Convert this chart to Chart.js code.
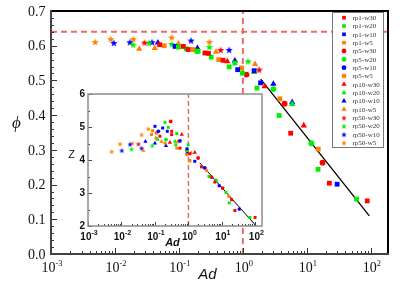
<!DOCTYPE html>
<html>
<head>
<meta charset="utf-8">
<script src="https://cdn.jsdelivr.net/npm/chart.js@4.4.0/dist/chart.umd.min.js"></script>
<style>
html, body { margin: 0; padding: 0; background: #fff; }
#wrap { position: relative; width: 409px; height: 285px; }
#wrap canvas { position: absolute; left: 0; top: 0; }
</style>
</head>
<body>
<div id="wrap">
  <canvas id="main" width="409" height="285"></canvas>
  <canvas id="inset" width="409" height="285"></canvas>
</div>
<script>
// series names (legend order)
const seriesNames = ['rp1-w30', 'rp1-w20', 'rp1-w10', 'rp1-w5',
                     'rp5-w30', 'rp5-w20', 'rp5-w10', 'rp5-w5',
                     'rp10-w30', 'rp10-w20', 'rp10-w10', 'rp10-w5',
                     'rp50-w30', 'rp50-w20', 'rp50-w10', 'rp50-w5'];

// main plot: [Ad, phi]
const phiRp1W30 = [[0.050, 0.603], [0.117, 0.598], [0.14, 0.589], [0.255, 0.579], [0.29, 0.578], [0.49, 0.558], [5.6, 0.348], [22.5, 0.204], [88, 0.153]];
const phiRp1W20 = [[0.098, 0.596], [0.13, 0.591], [0.19, 0.584], [0.20, 0.584], [0.32, 0.567], [0.61, 0.539], [0.75, 0.550], [0.98, 0.521], [1.66, 0.478], [3.7, 0.399], [15, 0.244], [60, 0.158]];
const phiRp1W10 = [[0.087, 0.598], [0.83, 0.531], [1.5, 0.528], [1.89, 0.493], [29.8, 0.201]];
const phiRp1W5 = [[0.059, 0.600], [0.167, 0.589], [0.42, 0.560], [0.95, 0.536], [3.8, 0.447], [15.1, 0.302]];
const phiRp5W30 = [[1.14, 0.517], [4.5, 0.433], [17.6, 0.263]];
const phiRp5W20 = [[3.0, 0.475], [11.8, 0.319]];
const phiRp5W10 = [];
const phiRp5W5 = [];
const phiRp10W30 = [[0.57, 0.555], [2.19, 0.483], [8.97, 0.370]];
const phiRp10W20 = [[1.5, 0.524], [5.9, 0.432]];
const phiRp10W10 = [[0.047, 0.609], [0.195, 0.593], [0.75, 0.557], [3.0, 0.490], [5.9, 0.437]];
const phiRp10W5 = [[0.024, 0.591], [0.042, 0.593], [0.098, 0.606], [0.38, 0.582], [1.55, 0.547]];
const phiRp50W30 = [[0.029, 0.609], [0.45, 0.588], [1.8, 0.531]];
const phiRp50W20 = [[0.0193, 0.603], [0.034, 0.608], [0.077, 0.605], [0.30, 0.596], [1.21, 0.555]];
const phiRp50W10 = [[0.0096, 0.608], [0.0171, 0.610], [0.038, 0.610], [0.155, 0.615], [0.61, 0.588]];
const phiRp50W5 = [[0.0049, 0.611], [0.0086, 0.619], [0.0193, 0.619], [0.077, 0.624], [0.30, 0.611]];

// inset: [Ad, Z]
const zRp1W30 = [[0.141, 4.72], [0.316, 4.87], [0.316, 4.77], [0.56, 4.36], [1.1, 4.19], [2.45, 3.79], [6.2, 3.33], [19.5, 2.80], [24.5, 2.47], [98, 2.26]];
const zRp1W20 = [[0.20, 5.14], [0.25, 4.99], [0.45, 4.80], [0.42, 4.46], [0.98, 4.46], [4.1, 3.50], [13.2, 3.02], [16.6, 2.70], [69, 2.26]];
const zRp1W10 = [[0.10, 5.02], [0.17, 4.97], [0.234, 4.87], [0.91, 4.34], [1.55, 3.96], [8.3, 3.22], [33, 2.51]];
const zRp1W5 = [[0.085, 4.89], [0.079, 4.77], [0.20, 4.51], [0.45, 4.36], [0.89, 4.16], [3.5, 3.68], [16, 2.90]];
const zRp5W30 = [[0.295, 5.17], [1.95, 4.06], [4.9, 3.48], [10.5, 3.15]];
const zRp5W20 = [[0.214, 4.62], [0.89, 4.29], [6.6, 3.38]];
const zRp5W10 = [[0.126, 4.87], [0.56, 4.58], [3.1, 3.76]];
const zRp5W5 = [[0.112, 4.82], [0.50, 4.56], [1.1, 3.98]];
const zRp10W30 = [[0.63, 4.77], [0.28, 4.53], [1.55, 4.23]];
const zRp10W20 = [[0.40, 4.56], [0.12, 4.62]];
const zRp10W10 = [[0.052, 4.56], [0.10, 4.51], [0.214, 4.43], [0.91, 4.21]];
const zRp10W5 = [[0.045, 4.29], [0.158, 4.56], [1.2, 4.21], [0.107, 4.67]];
const zRp50W30 = [[0.032, 4.49]];
const zRp50W20 = [[0.020, 4.33], [0.083, 4.44]];
const zRp50W10 = [[0.0102, 4.29], [0.018, 4.48], [0.040, 4.36]];
const zRp50W5 = [[0.0051, 4.26], [0.0091, 4.49], [0.021, 4.51], [0.040, 4.77], [0.063, 4.95]];

const phiSeries = [phiRp1W30, phiRp1W20, phiRp1W10, phiRp1W5, phiRp5W30, phiRp5W20, phiRp5W10, phiRp5W5,
                   phiRp10W30, phiRp10W20, phiRp10W10, phiRp10W5, phiRp50W30, phiRp50W20, phiRp50W10, phiRp50W5];
const zSeries = [zRp1W30, zRp1W20, zRp1W10, zRp1W5, zRp5W30, zRp5W20, zRp5W10, zRp5W5,
                 zRp10W30, zRp10W20, zRp10W10, zRp10W5, zRp50W30, zRp50W20, zRp50W10, zRp50W5];

// reference lines and fits
const refPhi = 0.64;
const refAd = 1;
const phiFitAd = [1.9, 95];
const phiFitVal = [0.504, 0.11];
const zFitAd = [2.2, 102];
const zFitVal = [3.91, 2.02];

// ticks
const decades = [-3, -2, -1, 0, 1, 2];
const phiTicks = [0, 0.1, 0.2, 0.3, 0.4, 0.5, 0.6, 0.7];
const phiTickLabels = ['0.0', '0.1', '0.2', '0.3', '0.4', '0.5', '0.6', '0.7'];
const zTicks = [2, 3, 4, 5, 6];

const palette = ['#ff0000', '#00ee00', '#0000ff', '#ff8000'];
const shapes = ['rect', 'circle', 'triangle', 'star'];
const SERIF = '"Liberation Serif", "Times New Roman", serif';
const SANS = '"Liberation Sans", Arial, sans-serif';

function makeStar(color, r) {
    const s = Math.ceil(r * 2) + 2;
    const c = document.createElement('canvas');
    c.width = s; c.height = s;
    const g = c.getContext('2d');
    g.fillStyle = color;
    g.beginPath();
    for (let i = 0; i < 10; i++) {
        const rr = i % 2 ? r * 0.42 : r;
        const a = -Math.PI / 2 + i * Math.PI / 5;
        const px = s / 2 + rr * Math.cos(a), py = s / 2 + 0.4 + rr * Math.sin(a);
        i ? g.lineTo(px, py) : g.moveTo(px, py);
    }
    g.closePath();
    g.fill();
    return c;
}

function styleFor(i, size) {
    const shape = shapes[Math.floor(i / 4)];
    const color = palette[i % 4];
    const radii = {
        big:   { rect: 3.4, circle: 2.9, triangle: 3.7, star: 3.8 },
        small: { rect: 2.1, circle: 1.9, triangle: 2.5, star: 2.8 },
        leg:   { rect: 2.6, circle: 2.4, triangle: 3.0, star: 3.0 }
    }[size];
    if (shape === 'star') return { color, pointStyle: makeStar(color, radii.star), radius: 3 };
    return { color, pointStyle: shape, radius: radii[shape] };
}

function scatterSets(series, size) {
    return series.map((pts, i) => {
        const st = styleFor(i, size);
        return {
            label: seriesNames[i],
            data: pts.map(p => ({ x: p[0], y: p[1] })),
            pointStyle: st.pointStyle,
            pointRadius: st.radius,
            pointHoverRadius: st.radius,
            pointBackgroundColor: st.color,
            pointBorderColor: st.color,
            pointBorderWidth: 0,
            showLine: false
        };
    });
}

function lineSet(xs, ys, color, width, dash) {
    return {
        data: xs.map((x, i) => ({ x, y: ys[i] })),
        showLine: true, pointRadius: 0, borderColor: color, borderWidth: width,
        borderDash: dash || [], fill: false
    };
}

function sciLabel(ctx, px, baseY, exp, bigFont, smallFont, rise) {
    const sup = String(exp);
    ctx.font = bigFont; const w1 = ctx.measureText('10').width;
    ctx.font = smallFont; const w2 = ctx.measureText(sup).width;
    const x0 = px - (w1 + w2) / 2;
    ctx.textAlign = 'left'; ctx.textBaseline = 'alphabetic';
    ctx.font = bigFont; ctx.fillText('10', x0, baseY);
    ctx.font = smallFont; ctx.fillText(sup, x0 + w1, baseY - rise);
}

function logTicks(scale, a, len, minorLen, ctx) {
    ctx.beginPath();
    decades.forEach(e => {
        for (let m = 1; m <= 9; m++) {
            const v = m * Math.pow(10, e);
            if (v < scale.min || v > scale.max) continue;
            const px = Math.round(scale.getPixelForValue(v)) + 0.5;
            ctx.moveTo(px, a.bottom);
            ctx.lineTo(px, a.bottom - (m === 1 ? len : minorLen));
        }
    });
    ctx.stroke();
}

const mainDecor = {
    id: 'mainDecor',
    afterDatasetsDraw(chart) {
        const { ctx, chartArea: a, scales: { x, y } } = chart;
        ctx.save();
        // ticks (inward)
        ctx.strokeStyle = '#333'; ctx.lineWidth = 1;
        logTicks(x, a, 6, 3, ctx);
        ctx.beginPath();
        for (let v = 0; v <= 0.7001; v += 0.02) {
            const py = Math.round(y.getPixelForValue(v)) + 0.5;
            const major = Math.abs(v * 10 - Math.round(v * 10)) < 1e-6;
            ctx.moveTo(a.left, py); ctx.lineTo(a.left + (major ? 6 : 3), py);
        }
        ctx.stroke();
        // frame
        ctx.lineWidth = 2;
        ctx.strokeStyle = '#000';
        ctx.beginPath();
        ctx.moveTo(a.left, a.top); ctx.lineTo(a.right, a.top); ctx.lineTo(a.right, a.bottom);
        ctx.stroke();
        ctx.strokeStyle = '#444';
        ctx.beginPath();
        ctx.moveTo(a.left, a.top - 1); ctx.lineTo(a.left, a.bottom); ctx.lineTo(a.right + 1, a.bottom);
        ctx.stroke();
        // tick labels
        ctx.fillStyle = '#111';
        ctx.font = '14px ' + SERIF;
        ctx.textAlign = 'right'; ctx.textBaseline = 'middle';
        phiTicks.forEach((v, i) => ctx.fillText(phiTickLabels[i], 45.5, y.getPixelForValue(v) + 1));
        decades.forEach(e => sciLabel(ctx, x.getPixelForValue(Math.pow(10, e)) + 1, 272, e,
            '14px ' + SERIF, '8.5px ' + SERIF, 6));
        // axis titles
        ctx.font = 'italic 15px ' + SANS;
        ctx.textAlign = 'center'; ctx.textBaseline = 'alphabetic';
        ctx.fillText('Ad', 207.5, 278.5);
        ctx.font = 'italic 17px ' + SERIF;
        ctx.fillText('\u03D5', 16.5, 128);
        // legend
        const lx = 332.5, ly = 12.5, lw = 51, lh = 135;
        ctx.fillStyle = '#fff';
        ctx.fillRect(lx, ly, lw, lh);
        ctx.strokeStyle = '#777'; ctx.lineWidth = 1;
        ctx.strokeRect(lx, ly, lw, lh);
        const drawPoint = Chart.helpers.drawPoint;
        seriesNames.forEach((name, i) => {
            const st = styleFor(i, 'leg');
            const ry = 17.7 + i * 8.33;
            ctx.fillStyle = st.color;
            drawPoint(ctx, { pointStyle: st.pointStyle, radius: st.radius, borderWidth: 0, rotation: 0 }, 344, ry);
            ctx.fillStyle = '#333';
            ctx.font = '7px ' + SERIF;
            ctx.textAlign = 'left'; ctx.textBaseline = 'middle';
            ctx.fillText(name, 352.5, ry + 0.5);
        });
        ctx.restore();
    }
};

const insetDecor = {
    id: 'insetDecor',
    beforeDatasetsDraw(chart) {
        const { ctx, chartArea: a } = chart;
        ctx.save();
        ctx.fillStyle = '#fff';
        ctx.fillRect(a.left, a.top, a.right - a.left, a.bottom - a.top);
        ctx.restore();
    },
    afterDatasetsDraw(chart) {
        const { ctx, chartArea: a, scales: { x, y } } = chart;
        ctx.save();
        ctx.strokeStyle = '#444'; ctx.lineWidth = 1;
        logTicks(x, a, 4, 2, ctx);
        ctx.beginPath();
        for (let v = 2; v <= 6.001; v += 0.5) {
            const py = Math.round(y.getPixelForValue(v)) + 0.5;
            ctx.moveTo(a.left, py); ctx.lineTo(a.left + (v % 1 === 0 ? 4 : 2), py);
        }
        ctx.stroke();
        ctx.strokeStyle = '#8c8c8c'; ctx.lineWidth = 1.5;
        ctx.strokeRect(a.left, a.top, a.right - a.left, a.bottom - a.top);
        ctx.fillStyle = '#111';
        ctx.font = 'bold 10px ' + SANS;
        ctx.textAlign = 'right'; ctx.textBaseline = 'middle';
        zTicks.forEach(v => ctx.fillText(String(v), 85, y.getPixelForValue(v) + 0.5));
        decades.forEach(e => sciLabel(ctx, x.getPixelForValue(Math.pow(10, e)) + 1, 240, e,
            'bold 10px ' + SANS, 'bold 7px ' + SANS, 5.5));
        ctx.font = 'bold italic 11px ' + SANS;
        ctx.textAlign = 'center'; ctx.textBaseline = 'alphabetic';
        ctx.fillText('Ad', 172.5, 246);
        ctx.font = '11px ' + SANS;
        ctx.textBaseline = 'middle';
        ctx.fillText('Z', 71.5, 155);
        ctx.restore();
    }
};

const dashRed = '#f06a6a';

new Chart(document.getElementById('main'), {
    type: 'scatter',
    data: {
        datasets: [
            ...scatterSets(phiSeries, 'big'),
            lineSet(phiFitAd, phiFitVal, '#000', 1.3),
            lineSet([0.001, 186], [refPhi, refPhi], dashRed, 2, [6, 4]),
            lineSet([refAd, refAd], [0, 0.7], dashRed, 2, [6, 4])
        ]
    },
    options: {
        responsive: false, animation: false, devicePixelRatio: 1,
        layout: { padding: { top: 11, right: 21, left: 0, bottom: 0 } },
        plugins: { legend: { display: false }, tooltip: { enabled: false } },
        scales: {
            x: { type: 'logarithmic', min: 0.001, max: 186, grid: { display: false }, border: { display: false },
                 ticks: { display: false }, afterFit: s => { s.height = 31; } },
            y: { type: 'linear', min: 0, max: 0.7, grid: { display: false }, border: { display: false },
                 ticks: { display: false }, afterFit: s => { s.width = 51; } }
        }
    },
    plugins: [mainDecor]
});

new Chart(document.getElementById('inset'), {
    type: 'scatter',
    data: {
        datasets: [
            ...scatterSets(zSeries, 'small'),
            lineSet(zFitAd, zFitVal, '#000', 1),
            lineSet([refAd, refAd], [2, 6], dashRed, 1.5, [5, 3])
        ]
    },
    options: {
        responsive: false, animation: false, devicePixelRatio: 1,
        layout: { padding: { top: 94, right: 147, left: 0, bottom: 0 } },
        plugins: { legend: { display: false }, tooltip: { enabled: false } },
        scales: {
            x: { type: 'logarithmic', min: 0.001, max: 158, grid: { display: false }, border: { display: false },
                 ticks: { display: false }, afterFit: s => { s.height = 59; } },
            y: { type: 'linear', min: 2, max: 6, grid: { display: false }, border: { display: false },
                 ticks: { display: false }, afterFit: s => { s.width = 88; } }
        }
    },
    plugins: [insetDecor]
});
</script>
</body>
</html>
